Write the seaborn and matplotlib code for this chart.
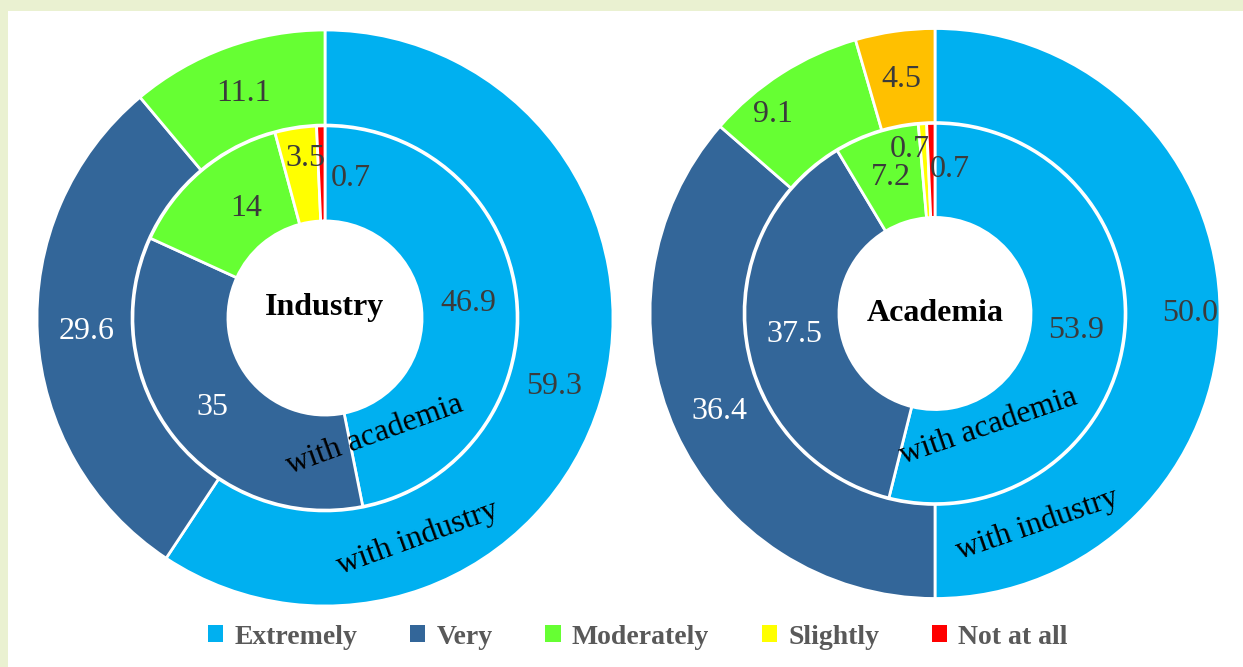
import numpy as np
import matplotlib
matplotlib.use("Agg")
import matplotlib.pyplot as plt
from matplotlib.patches import Patch, Rectangle
import seaborn as sns

# chart data
categories = ["Extremely", "Very", "Moderately", "Slightly", "Not at all"]
industry_with_industry = [59.3, 29.6, 11.1, 0.0, 0.0]
industry_with_academia = [46.9, 35, 14, 3.5, 0.7]
academia_with_industry = [50.0, 36.4, 9.1, 4.5, 0.0]
academia_with_academia = [53.9, 37.5, 7.2, 0.7, 0.7]
panel_titles = ["Industry", "Academia"]
ring_names = ["with industry", "with academia"]

palette = ["#00B0F0", "#336699", "#66FF33", "#FFFF00", "#FF0000"]

sns.set_style("white")
plt.rcParams["font.family"] = ["Liberation Serif", "DejaVu Serif"]

W, H = 1243, 667
fig = plt.figure(figsize=(W / 100, H / 100), dpi=100)
fig.patch.set_facecolor("#EAF1D1")
fig.patches.append(Rectangle((8 / W, 0), 1, 1 - 11 / H, transform=fig.transFigure,
                             facecolor="white", edgecolor="none", zorder=-10))

# label nudges for crowded slices (panel, ring, category index)
nudges = {
    (0, 1, 2): (0.05, 0.0),
    (0, 1, 3): (0.01, 0.06),
    (0, 1, 4): (0.10, -0.015),
    (1, 0, 0): (0.065, 0.0),
    (1, 0, 2): (-0.12, 0.0),
    (1, 1, 3): (-0.055, 0.075),
    (1, 1, 4): (0.064, 0.005),
}

boxes = [(325, 318, 288), (935, 313.5, 285)]
panels = [
    (industry_with_industry, industry_with_academia),
    (academia_with_industry, academia_with_academia),
]
title_dy = [0.035, 0.0]
ring_text = [
    [(0.32, -0.764, 20), (0.174, -0.406, 20)],
    [(0.358, -0.74, 19), (0.186, -0.396, 19)],
]

for p, ((cx, cy, r), rings) in enumerate(zip(boxes, panels)):
    ax = fig.add_axes([(cx - r) / W, (H - cy - r) / H, 2 * r / W, 2 * r / H])
    ax.set_zorder(5)
    ax.patch.set_alpha(0)
    for k, vals in enumerate(rings):
        radius = 1.0 if k == 0 else 0.667
        cols = list(palette)
        if p == 1 and k == 0:
            cols[3] = "#FFC000"
        idx = [i for i, v in enumerate(vals) if v > 0]
        v = [vals[i] for i in idx]
        wedges, _ = ax.pie(v, radius=radius, startangle=90, counterclock=False,
                           colors=[cols[i] for i in idx],
                           wedgeprops=dict(width=0.33, edgecolor="white", linewidth=2))
        total = sum(v)
        cum = 0
        lab_r = 0.83 if k == 0 else 0.5
        for i, val in zip(idx, v):
            mid = (cum + val / 2) / total * 2 * np.pi
            cum += val
            x, y = lab_r * np.sin(mid), lab_r * np.cos(mid)
            dx, dy = nudges.get((p, k, i), (0, 0))
            txt = str(val)
            color = "white" if i == 1 else "#3B3B3B"
            ax.text(x + dx, y + dy, txt, ha="center", va="center",
                    fontsize=23, color=color)
        tx, ty, rot = ring_text[p][k]
        ax.text(tx, ty, ring_names[k], ha="center", va="center", rotation=rot,
                fontsize=23, color="black")
    ax.text(0, title_dy[p], panel_titles[p], ha="center", va="center",
            fontsize=23, fontweight="bold", color="black")
    ax.set_xlim(-1, 1)
    ax.set_ylim(-1, 1)
    ax.set_aspect("auto")
    ax.axis("off")

handles = [Patch(facecolor=c, edgecolor="none") for c in palette]
leg = fig.legend(handles, categories, loc="center", ncol=5, frameon=False,
                 bbox_to_anchor=(638 / W, 1 - 637 / H),
                 prop={"size": 20, "weight": "bold"},
                 handlelength=0.55, handleheight=0.55, handletextpad=0.4,
                 columnspacing=1.9)
for t in leg.get_texts():
    t.set_color("#595959")

fig.savefig("out.png", dpi=100, facecolor=fig.get_facecolor())
